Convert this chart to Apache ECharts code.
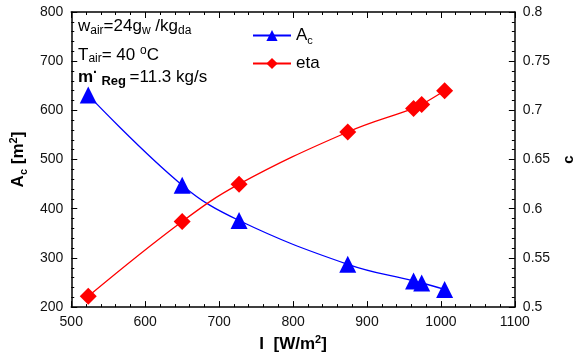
<!DOCTYPE html>
<html><head><meta charset="utf-8">
<script src="https://cdn.jsdelivr.net/npm/echarts@6/dist/echarts.min.js"></script>
<style>html,body{margin:0;padding:0;background:#fff}#c{width:584px;height:358px}</style>
</head><body><div id="c"></div>
<script>
const irradiance = [523, 650, 727, 874, 963, 974, 1005];
const areaAc = [631, 448, 376, 287, 253, 249, 236];
const etaValues = [0.511, 0.587, 0.625, 0.678, 0.702, 0.706, 0.720];
const xTicks = [500, 600, 700, 800, 900, 1000, 1100];
const yLeftTicks = [200, 300, 400, 500, 600, 700, 800];
const yRightTicks = [0.5, 0.55, 0.6, 0.65, 0.7, 0.75, 0.8];

const font = 'Liberation Sans, Arial, sans-serif';
const chart = echarts.init(document.getElementById('c'));
function tickIn() { return {show: true, inside: true, length: 6, lineStyle: {color: '#000', width: 1}}; }
function minorIn() { return {show: true, splitNumber: 5, length: 3, lineStyle: {color: '#000', width: 1}}; }
function lineOn() { return {show: true, onZero: false, lineStyle: {color: '#000', width: 1.5}}; }
const off = {show: false};
const labelStyle = {color: '#111', fontSize: 14, fontFamily: font};
const xr = {type: 'value', min: xTicks[0], max: xTicks[xTicks.length - 1], interval: 100, splitLine: {show: false}};
const yl = {type: 'value', min: yLeftTicks[0], max: yLeftTicks[yLeftTicks.length - 1], interval: 100, splitLine: {show: false}};
const yr = {type: 'value', min: yRightTicks[0], max: yRightTicks[yRightTicks.length - 1], interval: 0.05, splitLine: {show: false}};
function tickAxis(base, pos) {
  return Object.assign({}, base, {position: pos, axisLine: {show: false}, axisTick: tickIn(), minorTick: minorIn(), axisLabel: {show: false}});
}

chart.setOption({
  animation: false,
  grid: {left: 68, right: 60, top: 12, bottom: 44},
  legend: {
    left: 247, top: 22, orient: 'vertical', itemGap: 9, itemWidth: 38, itemHeight: 14,
    data: ['A', 'eta'],
    formatter: function (n) { return n === 'A' ? '{a|A}{s|c}' : '{a|eta}'; },
    textStyle: {fontFamily: font, fontSize: 17, color: '#000',
      rich: {a: {fontSize: 17, fontFamily: font, color: '#000'}, s: {fontSize: 11, fontFamily: font, color: '#000', padding: [10, 0, 0, 0]}}}
  },
  xAxis: [
    Object.assign({}, xr, {
      position: 'bottom', axisLine: lineOn(), axisTick: {show: false}, minorTick: {show: false},
      axisLabel: Object.assign({}, labelStyle, {formatter: function (v) { return String(v); }}),
      name: '{b|I  [W/m}{sup|2}{b|]}', nameLocation: 'middle', nameGap: 24,
      nameTextStyle: {rich: {b: {fontSize: 17, fontWeight: 'bold', fontFamily: font, color: '#000'},
        sup: {fontSize: 11, fontWeight: 'bold', fontFamily: font, color: '#000', padding: [0, 0, 10, 0]}}}
    }),
    Object.assign({}, xr, {position: 'top', axisLine: lineOn(), axisTick: {show: false}, minorTick: {show: false}, axisLabel: {show: false}}),
    tickAxis(xr, 'bottom'),
    tickAxis(xr, 'top')
  ],
  yAxis: [
    Object.assign({}, yl, {
      position: 'left', axisLine: lineOn(), axisTick: {show: false}, minorTick: {show: false}, axisLabel: labelStyle,
      name: '{b|A}{sub|c}{b| [m}{sup|2}{b|]}', nameLocation: 'middle', nameGap: 38,
      nameTextStyle: {rich: {b: {fontSize: 17, fontWeight: 'bold', fontFamily: font, color: '#000'},
        sub: {fontSize: 11, fontWeight: 'bold', fontFamily: font, color: '#000', padding: [10, 0, 0, 0]},
        sup: {fontSize: 11, fontWeight: 'bold', fontFamily: font, color: '#000', padding: [0, 0, 10, 0]}}}
    }),
    Object.assign({}, yr, {
      position: 'right', axisLine: lineOn(), axisTick: {show: false}, minorTick: {show: false},
      axisLabel: Object.assign({}, labelStyle, {formatter: function (v) { return String(+v.toFixed(2)); }}),
      name: 'c', nameLocation: 'middle', nameGap: 40, nameRotate: 90,
      nameTextStyle: {fontSize: 15, fontWeight: 'bold', fontFamily: font, color: '#000'}
    }),
    tickAxis(yl, 'left'),
    tickAxis(yr, 'right')
  ],
  series: [{
    name: 'A', type: 'line', xAxisIndex: 0, yAxisIndex: 0, smooth: 0.4,
    data: irradiance.map((x, i) => [x, areaAc[i]]),
    symbol: 'triangle', symbolSize: 17,
    lineStyle: {color: '#0000ff', width: 1.3}, itemStyle: {color: '#0000ff'}
  }, {
    name: 'eta', type: 'line', xAxisIndex: 0, yAxisIndex: 1, smooth: 0.4,
    data: irradiance.map((x, i) => [x, etaValues[i]]),
    symbol: 'diamond', symbolSize: 17,
    lineStyle: {color: '#ff0000', width: 1.3}, itemStyle: {color: '#ff0000'}
  }],
  graphic: [{
    type: 'text', left: 78, top: 18,
    style: {text: '{n|w}{s|air}{n|=24g}{s|w}{n| /kg}{s|da}', font: '17px ' + font, fill: '#000',
      rich: {n: {fontSize: 17, fontFamily: font}, s: {fontSize: 12, fontFamily: font, padding: [8, 0, 0, 0]}}}
  }, {
    type: 'text', left: 78, top: 45,
    style: {text: '{n|T}{s|air}{n|= 40 }{p|o}{n|C}', font: '17px ' + font, fill: '#000',
      rich: {n: {fontSize: 17, fontFamily: font}, s: {fontSize: 12, fontFamily: font, padding: [8, 0, 0, 0]}, p: {fontSize: 12, fontFamily: font, padding: [0, 0, 8, 0]}}}
  }, {
    type: 'text', left: 78, top: 66,
    style: {text: '{b|m}{d|·}{s| Reg }{n|=11.3 kg/s}', font: '17px ' + font, fill: '#000',
      rich: {b: {fontSize: 17, fontWeight: 'bold', fontFamily: font}, d: {fontSize: 14, fontWeight: 'bold', fontFamily: font, padding: [0, 0, 8, 0]},
        s: {fontSize: 13, fontWeight: 'bold', fontFamily: font, padding: [8, 0, 0, 0]}, n: {fontSize: 17, fontFamily: font}}}
  }]
});
</script></body></html>
